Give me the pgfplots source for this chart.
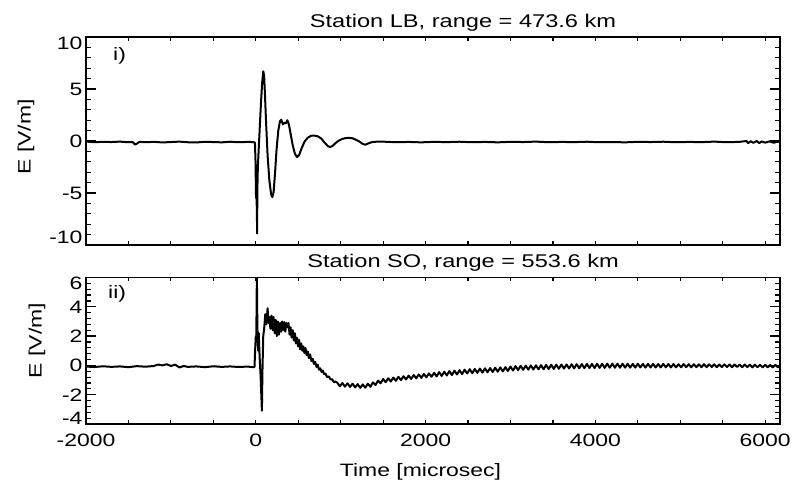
\documentclass[border=0pt]{standalone}
\usepackage{pgfplots}
\pgfplotsset{compat=1.18}
\usepackage{fontspec}
\setmainfont[FakeStretch=1.28]{Liberation Sans}

\pgfplotsset{
  myaxis/.style={
    scale only axis, width=694bp,
    xmin=-2000, xmax=6175,
    axis line style={line width=1.5bp},
    tick style={line width=1.2bp, black},
    tick align=inside,
    xtick={-2000,0,2000,4000,6000},
    minor x tick num=3,
    minor y tick num=4,
    major tick length=10bp, minor tick length=5bp,
    major x tick style={/pgfplots/major tick length=4bp},
    minor x tick style={/pgfplots/minor tick length=4bp},
    tick label style={font=\fontsize{18}{21}\selectfont},
    label style={font=\fontsize{18}{21}\selectfont},
    yticklabel style={anchor=east},
    xticklabel style={anchor=north, yshift=-6.5bp},
  },
  trace/.style={black, line width=2bp, line join=round, no marks},
}

\begin{document}
\begin{tikzpicture}
\path[use as bounding box] (0bp,0bp) rectangle (799bp,483bp);

% ---------- top panel ----------
\begin{axis}[myaxis,
  at={(86bp,238bp)}, anchor=south west, height=208bp,
  ymin=-10, ymax=10,
  ytick={-10,-5,0,5,10},
  yticklabel={\smash{\ifcase\ticknum \raisebox{1.5bp}{-10}\or\raisebox{-6.5bp}{-5}\or\raisebox{-6.5bp}{0}\or\raisebox{-6.5bp}{5}\else\raisebox{-12.5bp}{10}\fi}},
  xticklabels={},
  ylabel={E [V/m]},
  ylabel style={at={(axis description cs:-0.0865,0.52)}, anchor=center},
]
\addplot[trace] coordinates {
(-2000,-0.05) (-1900,-0.12) (-1800,-0.08) (-1700,-0.1) (-1600,-0.06) (-1500,-0.12)
(-1450,-0.1) (-1420,-0.35) (-1400,-0.25) (-1370,-0.08) (-1300,-0.12) (-1200,-0.08)
(-1100,-0.14) (-1000,-0.1) (-900,-0.06) (-800,-0.12) (-700,-0.14) (-600,-0.08)
(-500,-0.1) (-400,-0.13) (-300,-0.07) (-200,-0.12) (-100,-0.09) (-30,-0.1)
(-10,-0.15) (-3,-2.0) (3,-5.5) (6,-3.0) (9,-6.2) (12,-4.0) (15,-8.9) (19,-4.5)
(24,-2.6) (32,-1.2) (45,1.0) (60,3.5) (75,5.6) (88,6.7) (98,6.3) (108,4.5)
(120,2.0) (140,-1.5) (160,-3.8) (180,-5.1) (195,-5.4) (210,-4.9) (225,-3.3)
(245,-0.8) (265,1.0) (285,1.9) (300,2.05) (320,1.6) (335,1.75) (355,1.7)
(372,2.0) (390,1.6) (410,0.7) (435,-0.4) (460,-1.2) (485,-1.55) (510,-1.35)
(540,-0.7) (575,-0.05) (610,0.3) (650,0.5) (690,0.52) (730,0.45) (770,0.25)
(810,-0.15) (850,-0.5) (875,-0.58) (900,-0.5) (940,-0.2) (980,0.05) (1020,0.2)
(1060,0.28) (1100,0.3) (1140,0.26) (1180,0.12) (1220,-0.05) (1260,-0.28)
(1290,-0.36) (1320,-0.25) (1370,-0.1) (1450,-0.05) (1550,-0.08) (1650,-0.12)
(1800,-0.09) (1950,-0.13) (2100,-0.08) (2250,-0.11) (2400,-0.07) (2550,-0.12)
(2700,-0.09) (2850,-0.13) (3000,-0.08) (3150,-0.1) (3300,-0.06) (3450,-0.12)
(3600,-0.09) (3750,-0.11) (3900,-0.07) (4050,-0.12) (4200,-0.1) (4350,-0.13)
(4500,-0.08) (4650,-0.1) (4800,-0.07) (4950,-0.12) (5100,-0.09) (5250,-0.11)
(5400,-0.06) (5550,-0.12) (5700,-0.08) (5780,0.0) (5800,-0.2) (5830,-0.02)
(5860,-0.18) (5900,0.0) (5930,-0.2) (5960,-0.04) (6000,-0.16) (6050,-0.04)
(6100,-0.17) (6150,-0.06) (6175,-0.1)
};
\end{axis}

% ---------- bottom panel ----------
\begin{axis}[myaxis,
  at={(86bp,59bp)}, anchor=south west, height=146.5bp,
  ymin=-4, ymax=6,
  ytick={-4,-2,0,2,4,6},
  yticklabel={\smash{\ifcase\ticknum \raisebox{-0.5bp}{-4}\or\raisebox{-6.5bp}{-2}\or\raisebox{-6.5bp}{0}\or\raisebox{-6.5bp}{2}\or\raisebox{-6.5bp}{4}\else\raisebox{-12bp}{6}\fi}},
  xticklabels={-2000,0,2000,4000,6000},
  xlabel={Time [microsec]},
  xlabel style={at={(axis description cs:0.482,0)}, anchor=base, yshift=-52bp},
  ylabel={E [V/m]},
  ylabel style={at={(axis description cs:-0.0706,0.57)}, anchor=center},
]
\addplot[trace] coordinates {
(-2000,-0.08) (-1900,-0.11) (-1800,-0.06) (-1700,-0.1) (-1600,-0.07) (-1500,-0.12)
(-1400,-0.05) (-1300,-0.09) (-1200,-0.04) (-1150,0.06) (-1100,0.0) (-1050,0.08)
(-1000,-0.04) (-950,0.05) (-900,-0.14) (-850,-0.04) (-800,-0.1) (-700,-0.07)
(-600,-0.12) (-500,-0.06) (-400,-0.1) (-300,-0.07) (-200,-0.11) (-100,-0.08)
(-30,-0.12) (-15,-0.1) (-8,1.0) (0,2.0) (6,1.6) (10,4.5) (13,6.2) (16,4.0)
(20,2.4) (28,1.0) (35,2.2) (45,0.6) (55,-0.5) (65,-2.0) (72,-3.1) (78,-0.5)
(88,2.0) (100,2.6) (112,3.5) (125,2.8) (139,3.9) (150,2.9) (160,3.3) (172,2.5)
(185,3.4) (198,2.4) (210,3.3) (222,2.2) (235,3.1) (248,2.0) (260,3.0) (272,2.1)
(285,2.9) (298,2.3) (310,3.0) (322,2.4) (335,2.95) (348,2.3) (360,2.9) (372,2.6)
(385,2.9) (398,2.1) (410,2.6) (422,1.9) (435,2.4) (448,1.7) (460,2.2) (472,1.5)
(485,1.9) (498,1.3) (510,1.75) (522,1.1) (535,1.5) (548,1.0) (560,1.3) (572,0.85)
(585,1.2) (598,0.7) (612,0.95) (625,0.5) (640,0.75) (655,0.3) (670,0.45) (685,0.1)
(700,0.25) (715,-0.1) (730,0.05) (745,-0.3) (760,-0.2) (775,-0.45) (790,-0.35)
(805,-0.6) (820,-0.55) (840,-0.8) (860,-0.75) (880,-0.95) (900,-0.95) (920,-1.15)
(940,-1.1) (960,-1.18) (990,-1.43) (1020,-1.20) (1050,-1.45) (1080,-1.22)
(1110,-1.47) (1140,-1.25) (1170,-1.50) (1200,-1.28) (1230,-1.53) (1260,-1.30)
(1290,-1.52) (1320,-1.25) (1350,-1.46) (1380,-1.16) (1410,-1.34) (1440,-1.04)
(1470,-1.22) (1500,-0.93) (1530,-1.15) (1560,-0.88) (1590,-1.10) (1620,-0.83)
(1650,-1.05) (1680,-0.78) (1710,-1.00) (1740,-0.74) (1770,-0.96) (1800,-0.70)
(1830,-0.92) (1860,-0.66) (1890,-0.88) (1920,-0.62) (1950,-0.85) (1980,-0.59)
(2010,-0.81) (2040,-0.55) (2070,-0.77) (2100,-0.51) (2130,-0.75) (2160,-0.46)
(2190,-0.72) (2220,-0.43) (2250,-0.69) (2280,-0.39) (2310,-0.66) (2340,-0.36)
(2370,-0.62) (2400,-0.33) (2430,-0.59) (2460,-0.29) (2490,-0.55) (2520,-0.26)
(2550,-0.53) (2580,-0.24) (2610,-0.51) (2640,-0.22) (2670,-0.49) (2700,-0.20)
(2730,-0.47) (2760,-0.18) (2790,-0.45) (2820,-0.16) (2850,-0.43) (2880,-0.14)
(2910,-0.41) (2940,-0.12) (2970,-0.38) (3000,-0.08) (3030,-0.35) (3060,-0.05)
(3090,-0.32) (3120,-0.03) (3150,-0.30) (3180,-0.02) (3210,-0.29) (3240,0.00)
(3270,-0.28) (3300,0.01) (3330,-0.27) (3360,0.02) (3390,-0.26) (3420,0.03)
(3450,-0.25) (3480,0.04) (3510,-0.24) (3540,0.05) (3570,-0.23) (3600,0.06)
(3630,-0.22) (3660,0.07) (3690,-0.21) (3720,0.08) (3750,-0.20) (3780,0.08)
(3810,-0.19) (3840,0.09) (3870,-0.19) (3900,0.10) (3930,-0.18) (3960,0.10)
(3990,-0.18) (4020,0.11) (4050,-0.17) (4080,0.11) (4110,-0.17) (4140,0.12)
(4170,-0.16) (4200,0.12) (4230,-0.16) (4260,0.12) (4290,-0.16) (4320,0.11)
(4350,-0.15) (4380,0.11) (4410,-0.15) (4440,0.10) (4470,-0.15) (4500,0.11)
(4530,-0.14) (4560,0.10) (4590,-0.15) (4620,0.10) (4650,-0.14) (4680,0.10)
(4710,-0.14) (4740,0.09) (4770,-0.14) (4800,0.10) (4830,-0.13) (4860,0.09)
(4890,-0.14) (4920,0.09) (4950,-0.13) (4980,0.08) (5010,-0.13) (5040,0.09)
(5070,-0.12) (5100,0.08) (5130,-0.13) (5160,0.08) (5190,-0.12) (5220,0.07)
(5250,-0.12) (5280,0.08) (5310,-0.12) (5340,0.07) (5370,-0.11) (5400,0.07)
(5430,-0.12) (5460,0.06) (5490,-0.11) (5520,0.07) (5550,-0.11) (5580,0.06)
(5610,-0.12) (5640,0.06) (5670,-0.11) (5700,0.05) (5730,-0.12) (5760,0.06)
(5790,-0.12) (5820,0.05) (5850,-0.13) (5880,0.05) (5910,-0.12) (5940,0.04)
(5970,-0.13) (6000,0.04) (6030,-0.13) (6060,0.03) (6090,-0.14) (6120,0.03)
(6150,-0.13) (6175,-0.02)
};
\end{axis}

% titles and panel labels
\node[anchor=base, font=\fontsize{18.5}{21}\selectfont] at (463bp,455bp) {Station LB, range = 473.6 km};
\node[anchor=base, font=\fontsize{18.5}{21}\selectfont] at (463bp,215bp) {Station SO, range = 553.6 km};
\node[anchor=base west, inner sep=0pt, font=\fontsize{18}{21}\selectfont] at (113bp,422bp) {i)};
\node[anchor=base west, inner sep=0pt, font=\fontsize{18}{21}\selectfont] at (108bp,184bp) {ii)};
\end{tikzpicture}
\end{document}
